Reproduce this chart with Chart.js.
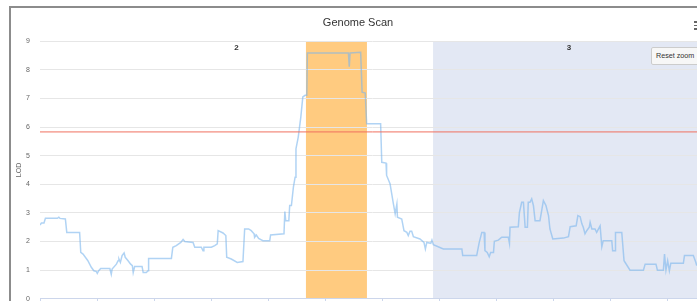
<!DOCTYPE html>
<html>
<head>
<meta charset="utf-8">
<script src="https://cdn.jsdelivr.net/npm/chart.js@4.4.0/dist/chart.umd.min.js"></script>
<style>
html, body { margin: 0; padding: 0; width: 697px; height: 301px; overflow: hidden; background: #fff; font-family: "Liberation Sans", Arial, sans-serif; }
#frame { position: absolute; left: 9px; top: 6px; width: 800px; height: 400px; border-top: 2px solid #8c8c8c; border-left: 2px solid #8c8c8c; }
#wrap { position: absolute; left: 11px; top: 8px; width: 696px; height: 305px; }
#reset { position: absolute; left: 651px; top: 47px; width: 56px; height: 18px; background: #f7f7f7; border: 1px solid #cccccc; border-radius: 2px; font-size: 7.2px; color: #333; line-height: 16px; padding-left: 4px; box-sizing: border-box; white-space: nowrap; }
.bar { position: absolute; left: 694px; width: 12px; height: 1.5px; background: #666; }
</style>
</head>
<body>
<div id="frame"></div>
<div id="wrap"><canvas id="scan" width="696" height="305"></canvas></div>
<div id="reset">Reset zoom</div>
<div class="bar" style="top:21px"></div>
<div class="bar" style="top:24.5px"></div>
<div class="bar" style="top:28px"></div>
<script>
// chromosomes (Mb along the scan axis)
const chrNames = ['2', '3'];
const chrStart = [0, 137.9];
const chrEnd = [137.9, 233.3];
const peakBand = [93.3, 114.7];
const lodThreshold = 5.83;
const lodTicks = [0, 1, 2, 3, 4, 5, 6, 7, 8, 9];
const posTicks = [0, 20, 40, 60, 80, 100, 120, 140, 160, 180, 200, 220];

// scan values
const positions = [
  0, 0.5, 1.4, 1.9, 6.1, 6.6, 7.0, 8.9, 9.4, 13.9, 14.3, 15.1, 16.8, 18.0, 18.9, 19.8, 20.1, 20.6, 21.3, 24.5,
  25.0, 25.3, 26.8, 27.4, 27.7, 28.2, 28.8, 29.5, 29.9, 30.9, 31.8, 32.4, 32.7, 33.2, 35.8, 36.2, 37.3, 37.9, 38.1, 46.1,
  46.6, 47.8, 49.4, 50.2, 50.8, 53.7, 54.3, 56.6, 57.2, 57.5, 60.1, 61.3, 62.2, 62.5, 64.2, 65.2, 65.5, 67.1, 69.2, 71.2,
  71.8, 73.2, 74.1, 75.1, 75.3, 75.9, 76.7, 78.2, 80.6, 80.9, 85.6, 85.9, 86.2, 87.3, 87.6, 88.2, 88.9, 89.5, 89.8, 90.6,
  91.5, 92.2, 93.0, 93.6, 93.8, 108.2, 108.5, 108.8, 112.5, 113.0, 114.1, 114.6, 119.5, 119.9, 121.4, 121.6, 122.8, 124.0, 124.6, 125.2,
  125.4, 126.9, 127.7, 128.7, 129.2, 129.8, 130.4, 131.0, 133.3, 134.7, 135.2, 135.7, 137.1, 137.5, 138.0, 141.5, 148.0, 148.3, 153.2, 154.1,
  155.0, 155.8, 156.1, 156.9, 157.6, 158.1, 159.1, 159.4, 160.8, 162.0, 164.3, 164.7, 164.9, 167.8, 168.2, 169.0, 169.6, 170.2, 171.0, 171.3,
  171.9, 172.5, 173.1, 173.7, 175.4, 176.0, 176.6, 177.5, 178.4, 178.9, 179.9, 183.6, 185.4, 186.0, 188.1, 188.7, 189.5, 190.1, 190.6, 191.2,
  191.8, 192.7, 193.0, 193.6, 194.7, 195.3, 196.5, 197.1, 197.6, 200.6, 200.9, 201.8, 201.9, 204.1, 204.9, 207.0, 211.7, 212.3, 216.1, 216.6,
  218.7, 219.1, 219.6, 220.2, 220.8, 221.3, 225.7, 226.1, 229.2, 230.1, 230.4
];
const lod = [
  2.58, 2.65, 2.65, 2.81, 2.81, 2.85, 2.81, 2.79, 2.32, 2.32, 1.62, 1.56, 1.33, 1.10, 0.98, 0.95, 0.89, 0.98, 1.06, 1.06,
  0.86, 1.04, 1.21, 1.33, 1.39, 1.27, 1.51, 1.60, 1.45, 1.33, 1.21, 1.16, 0.92, 1.13, 1.13, 0.92, 0.92, 0.98, 1.41, 1.41,
  1.80, 1.86, 1.97, 2.07, 2.00, 1.97, 1.80, 1.80, 1.68, 1.80, 1.80, 1.86, 1.92, 2.38, 2.30, 2.21, 1.45, 1.39, 1.27, 1.30,
  2.44, 2.44, 2.38, 2.27, 2.15, 2.23, 2.11, 2.03, 2.03, 2.23, 2.27, 3.05, 2.73, 2.73, 3.26, 3.26, 3.90, 4.25, 5.24, 5.65,
  6.35, 7.05, 7.11, 7.11, 8.59, 8.59, 8.11, 8.59, 8.61, 7.22, 7.19, 6.12, 6.12, 4.77, 4.74, 4.31, 4.02, 3.31, 2.97, 3.31,
  2.85, 2.79, 2.38, 2.32, 2.21, 2.36, 2.36, 2.17, 2.09, 1.97, 1.74, 1.97, 1.94, 2.05, 1.89, 1.74, 1.74, 1.51, 1.51, 1.97,
  2.32, 2.32, 1.68, 1.62, 1.47, 1.62, 1.62, 2.01, 2.05, 2.15, 2.15, 1.94, 2.50, 2.52, 3.02, 3.37, 3.37, 2.50, 2.50, 3.37,
  3.37, 3.49, 3.26, 2.73, 2.73, 3.08, 3.43, 3.26, 2.91, 2.44, 2.09, 2.12, 2.17, 2.52, 2.55, 2.91, 2.87, 2.62, 2.50, 2.27,
  2.38, 2.50, 2.67, 2.44, 2.44, 2.32, 2.55, 1.82, 2.03, 2.03, 1.68, 1.68, 2.32, 2.32, 1.33, 1.00, 1.00, 1.21, 1.21, 1.00,
  1.00, 1.56, 1.00, 1.33, 0.98, 1.24, 1.24, 1.51, 1.51, 1.27, 1.16
];

const font = '"Liberation Sans", Arial, sans-serif';

// chromosome bands + peak band, drawn under the grid
const bandsPlugin = {
  id: 'bands',
  beforeDraw(chart) {
    const { ctx, chartArea: a, scales: { x } } = chart;
    ctx.save();
    ctx.beginPath();
    ctx.rect(a.left, a.top, a.right - a.left, a.bottom - a.top);
    ctx.clip();
    chrStart.forEach((s, i) => {
      if (i % 2 === 1) {
        const x0 = x.getPixelForValue(s);
        const x1 = x.getPixelForValue(chrEnd[i]);
        ctx.fillStyle = '#e3e8f4';
        ctx.fillRect(x0, a.top, x1 - x0, a.bottom - a.top);
      }
    });
    const p0 = x.getPixelForValue(peakBand[0]);
    const p1 = x.getPixelForValue(peakBand[1]);
    ctx.fillStyle = '#ffcb80';
    ctx.fillRect(p0, a.top, p1 - p0, a.bottom - a.top);
    ctx.restore();

    ctx.save();
    ctx.fillStyle = '#333333';
    ctx.font = 'bold 8px ' + font;
    ctx.textAlign = 'center';
    ctx.textBaseline = 'middle';
    chrNames.forEach((n, i) => {
      ctx.fillText(n, x.getPixelForValue((chrStart[i] + chrEnd[i]) / 2), a.top + 7);
    });
    ctx.restore();
  }
};

new Chart(document.getElementById('scan'), {
  type: 'line',
  data: {
    datasets: [{
      label: 'threshold',
      data: [{ x: chrStart[0], y: lodThreshold }, { x: chrEnd[chrEnd.length - 1], y: lodThreshold }],
      borderColor: '#f0705f',
      borderWidth: 1,
      pointRadius: 0
    }, {
      label: 'LOD',
      data: positions.map((p, i) => ({ x: p, y: lod[i] })),
      borderColor: 'rgba(124,181,236,0.6)',
      borderWidth: 1.5,
      pointRadius: 0,
      tension: 0
    }]
  },
  options: {
    responsive: false,
    animation: false,
    devicePixelRatio: 1,
    layout: { padding: { top: 0, right: 2, bottom: 0, left: 0 } },
    plugins: {
      legend: { display: false },
      tooltip: { enabled: false },
      title: {
        display: true,
        text: 'Genome Scan',
        color: '#333333',
        font: { family: font, size: 11, weight: 'normal' },
        padding: { top: 8, bottom: 12 }
      }
    },
    scales: {
      x: {
        type: 'linear',
        min: chrStart[0],
        max: chrEnd[chrEnd.length - 1],
        afterBuildTicks: s => { s.ticks = posTicks.map(v => ({ value: v })); },
        afterFit: s => { s.height = 3; },
        ticks: { display: false },
        grid: { drawOnChartArea: false, drawTicks: true, tickLength: 4, color: '#ccd6eb' },
        border: { color: '#ccd6eb' }
      },
      y: {
        min: 0,
        max: 9,
        afterBuildTicks: s => { s.ticks = lodTicks.map(v => ({ value: v })); },
        afterFit: s => { s.width = 29; },
        ticks: { color: '#666666', font: { family: font, size: 7 }, padding: 10 },
        grid: { color: '#e6e6e6', drawTicks: false },
        border: { display: false },
        title: { display: true, text: 'LOD', color: '#666666', font: { family: font, size: 7 }, padding: { top: 4, bottom: 0 } }
      }
    }
  },
  plugins: [bandsPlugin]
});
</script>
</body>
</html>
